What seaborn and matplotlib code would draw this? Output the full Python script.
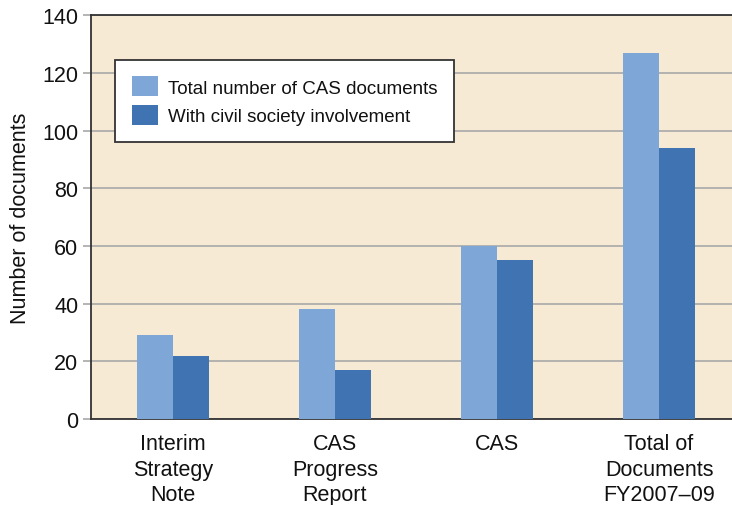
import numpy as np
import pandas as pd
import matplotlib
matplotlib.use("Agg")
import matplotlib.pyplot as plt
import seaborn as sns

categories = ["Interim\nStrategy\nNote", "CAS\nProgress\nReport", "CAS", "Total of\nDocuments\nFY2007\u201309"]
total_docs = [29, 38, 60, 127]
civil_docs = [22, 17, 55, 94]
series = ["Total number of CAS documents", "With civil society involvement"]
colors = ["#7ea7d8", "#3f73b1"]

df = pd.DataFrame({
    "category": categories * 2,
    "series": [series[0]] * 4 + [series[1]] * 4,
    "value": total_docs + civil_docs,
})

sns.set_style("white")
plt.rcParams["font.family"] = ["Liberation Sans", "DejaVu Sans"]
plt.rcParams["text.color"] = "#111111"
plt.rcParams["axes.labelcolor"] = "#111111"
plt.rcParams["xtick.color"] = "#111111"
plt.rcParams["ytick.color"] = "#111111"

fig = plt.figure(figsize=(7.32, 5.06), dpi=100)
ax = fig.add_axes([0.124, 0.170, 0.876, 0.798])
ax.set_facecolor("#f6ead5")

sns.barplot(data=df, x="category", y="value", hue="series", palette=colors,
            width=0.445, saturation=1, linewidth=0, ax=ax, zorder=3)

ax.set_ylim(0, 140)
ax.set_xlim(-0.505, 3.45)
ax.set_yticks(range(0, 141, 20))
ax.grid(axis="y", color="#a8a8a8", linewidth=1.2, zorder=0)
ax.set_axisbelow(True)
ax.tick_params(axis="y", length=6, width=1.2, color="#a8a8a8", labelsize=15.5, pad=3, left=True)
ax.tick_params(axis="x", length=0, labelsize=15.5, pad=10)
for lbl in ax.get_xticklabels():
    lbl.set_linespacing(1.3)
ax.set_xlabel("")
ax.set_ylabel("Number of documents", fontsize=15.5, labelpad=8)

for side in ["left", "top", "bottom"]:
    ax.spines[side].set_color("#333333")
    ax.spines[side].set_linewidth(1.3)
ax.spines["right"].set_visible(False)

leg = ax.legend(loc="upper left", bbox_to_anchor=(0.038, 0.89), fontsize=13.5,
                frameon=True, fancybox=False, framealpha=1, edgecolor="#333333",
                handlelength=1.4, handleheight=1.25, borderpad=0.9, labelspacing=0.45,
                handletextpad=0.5, borderaxespad=0)
leg.get_frame().set_linewidth(1.3)

fig.savefig("out.png", dpi=100)
